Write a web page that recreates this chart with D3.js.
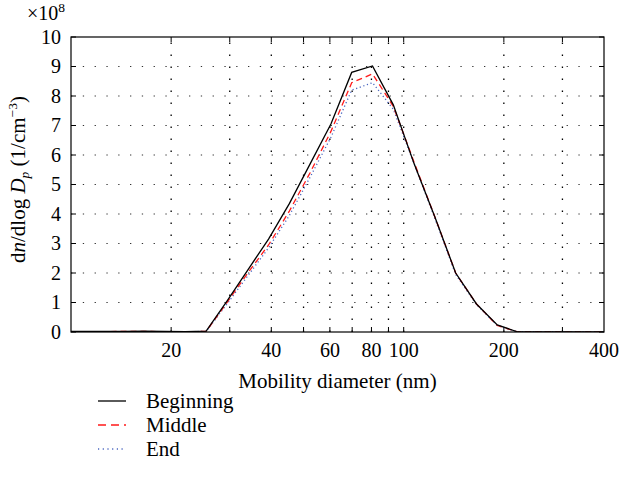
<!DOCTYPE html>
<html>
<head>
<meta charset="utf-8">
<script src="https://d3js.org/d3.v7.min.js"></script>
<style>
  body { margin: 0; background: #fff; }
  svg { display: block; }
  text { font-family: "Liberation Serif", "DejaVu Serif", serif; fill: #000; }
</style>
</head>
<body>
<svg id="chart" width="622" height="494"></svg>
<script>
// ---- data ----
const diameters = [9.3, 10.75, 12.41, 14.33, 16.55, 19.11, 22.07, 25.48, 29.43, 33.98, 39.24, 45.32, 52.33, 60.43, 69.78, 80.58, 93.06, 107.5, 124.1, 143.3, 165.5, 191.1, 220.7, 254.8, 294.3, 339.8, 392.4, 453.1];
const beginning = [0.02, 0.02, 0.02, 0.02, 0.03, 0.02, 0.01, 0.03, 1.05, 2.1, 3.15, 4.35, 5.7, 7.05, 8.8, 9.02, 7.7, 5.7, 3.9, 2.0, 0.95, 0.24, 0.0, 0, 0, 0, 0, 0];
const middle    = [0.01, 0.01, 0.01, 0.02, 0.02, 0.01, 0.01, 0.02, 1.0, 2.0, 2.95, 4.1, 5.4, 6.8, 8.45, 8.75, 7.65, 5.75, 3.9, 2.0, 0.95, 0.22, 0.0, 0, 0, 0, 0, 0];
const end       = [0.01, 0.01, 0.01, 0.01, 0.01, 0.01, 0.01, 0.02, 0.95, 1.9, 2.85, 3.95, 5.25, 6.6, 8.2, 8.45, 7.55, 5.7, 3.85, 1.95, 0.93, 0.22, 0.0, 0, 0, 0, 0, 0];
const seriesNames = ["Beginning", "Middle", "End"];
const xTickLabels = [20, 40, 60, 80, 100, 200, 400];
const xGridValues = [20, 30, 40, 50, 60, 70, 80, 90, 100, 200, 300];
const yTickValues = [0, 1, 2, 3, 4, 5, 6, 7, 8, 9, 10];

// ---- layout ----
const svg = d3.select("#chart");
const L = 71, R = 604, T = 37, B = 332;
const x = d3.scaleLog().domain([10, 400]).range([L, R]);
const y = d3.scaleLinear().domain([0, 10]).range([B, T]);
const FS = 20;
const FT = 21;
const FSS = 13.5;

const styles = [
  { color: "#000000", dash: null, width: 1.3 },
  { color: "#ff1a1a", dash: "6,4", width: 1.3 },
  { color: "#4a66c0", dash: "1.2,2.6", width: 1.3 }
];
const allSeries = [beginning, middle, end];

// clip
svg.append("defs").append("clipPath").attr("id", "clip")
  .append("rect").attr("x", L).attr("y", T).attr("width", R - L).attr("height", B - T);

// grid
const grid = svg.append("g");
grid.selectAll("line.h").data(yTickValues.filter(v => v > 0 && v < 10)).enter()
  .append("line")
  .attr("x1", L).attr("x2", R)
  .attr("y1", d => y(d)).attr("y2", d => y(d))
  .attr("stroke", "#333").attr("stroke-width", 1.2)
  .attr("stroke-dasharray", "1.3,10.5");
grid.selectAll("line.v").data(xGridValues).enter()
  .append("line")
  .attr("x1", d => x(d)).attr("x2", d => x(d))
  .attr("y1", B).attr("y2", T)
  .attr("stroke", "#000").attr("stroke-width", 1.3)
  .attr("stroke-dasharray", "1.5,10.5");

// ticks (inward, all four sides)
const tl = 5;
const axesG = svg.append("g").attr("stroke", "#000").attr("stroke-width", 1);
yTickValues.forEach(v => {
  axesG.append("line").attr("x1", L).attr("x2", L + tl).attr("y1", y(v)).attr("y2", y(v));
  axesG.append("line").attr("x1", R).attr("x2", R - tl).attr("y1", y(v)).attr("y2", y(v));
});
xGridValues.forEach(v => {
  axesG.append("line").attr("x1", x(v)).attr("x2", x(v)).attr("y1", B).attr("y2", B - tl);
  axesG.append("line").attr("x1", x(v)).attr("x2", x(v)).attr("y1", T).attr("y2", T + tl);
});

// lines
const line = d3.line().x((d, i) => x(diameters[i])).y(d => y(d));
const linesG = svg.append("g").attr("clip-path", "url(#clip)");
allSeries.slice().reverse().forEach((s, j) => {
  const st = styles[2 - j];
  linesG.append("path").datum(s)
    .attr("d", line)
    .attr("fill", "none")
    .attr("stroke", st.color)
    .attr("stroke-width", st.width)
    .attr("stroke-dasharray", st.dash)
    .attr("stroke-linejoin", "miter");
});

// box
svg.append("rect").attr("x", L).attr("y", T).attr("width", R - L).attr("height", B - T)
  .attr("fill", "none").attr("stroke", "#000").attr("stroke-width", 1.2);

// tick labels
svg.append("g").selectAll("text").data(yTickValues).enter().append("text")
  .attr("x", L - 10).attr("y", d => y(d)).attr("dy", "0.33em")
  .attr("text-anchor", "end").attr("font-size", FS).text(d => d);
svg.append("g").selectAll("text").data(xTickLabels).enter().append("text")
  .attr("x", d => x(d)).attr("y", B + 25)
  .attr("text-anchor", "middle").attr("font-size", FS).text(d => d);

// exponent
const ex = svg.append("text").attr("x", 27).attr("y", 20).attr("font-size", FS);
ex.append("tspan").text("×10");
ex.append("tspan").attr("font-size", FSS).attr("dy", -8).text("8");

// x title
svg.append("text").attr("x", (L + R) / 2).attr("y", B + 56)
  .attr("text-anchor", "middle").attr("font-size", FT).text("Mobility diameter (nm)");

// y title
const yt = svg.append("text")
  .attr("transform", "translate(25," + ((T + B) / 2 - 5) + ") rotate(-90)")
  .attr("text-anchor", "middle").attr("font-size", FT);
yt.append("tspan").text("d");
yt.append("tspan").attr("font-style", "italic").text("n");
yt.append("tspan").text("/dlog ");
yt.append("tspan").attr("font-style", "italic").text("D");
yt.append("tspan").attr("font-style", "italic").attr("font-size", FSS).attr("dy", 4).text("p");
yt.append("tspan").attr("dy", -4).text(" (1/cm");
yt.append("tspan").attr("font-size", FSS).attr("dy", -8).text("−3");
yt.append("tspan").attr("dy", 8).text(")");

// legend
const lg = svg.append("g");
seriesNames.forEach((name, i) => {
  const yy = 401 + i * 24;
  lg.append("line").attr("x1", 98).attr("x2", 126).attr("y1", yy).attr("y2", yy)
    .attr("stroke", styles[i].color).attr("stroke-width", 1.3)
    .attr("stroke-dasharray", i === 1 ? "8,5" : (i === 2 ? "1.2,3.5" : null));
  lg.append("text").attr("x", 146).attr("y", yy).attr("dy", "0.33em")
    .attr("font-size", FT).text(name);
});
</script>
</body>
</html>
